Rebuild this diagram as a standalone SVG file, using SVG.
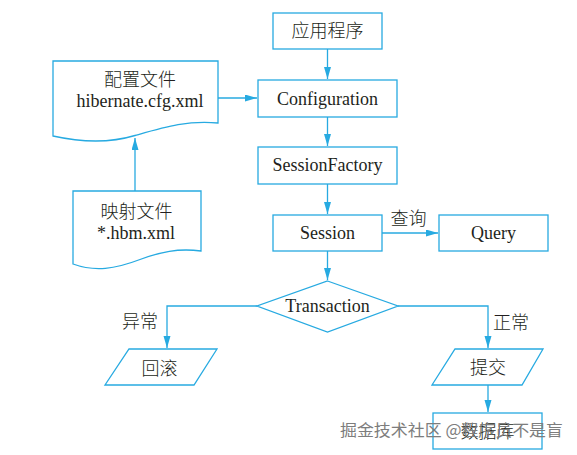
<svg xmlns="http://www.w3.org/2000/svg" width="577" height="455" viewBox="0 0 577 455">
<style>
.s{fill:#fff;stroke:#27aae1;stroke-width:1.3}
.c{fill:none;stroke:#27aae1;stroke-width:1.3}
.t{font-family:"Liberation Serif","Noto Sans CJK SC",serif;font-size:18px;fill:#231f20;text-anchor:middle}
.z{font-family:"Noto Sans CJK SC","Liberation Sans",sans-serif;font-size:18px;fill:#231f20;text-anchor:middle;font-weight:300}
.w{font-family:"Noto Sans CJK SC","Liberation Sans",sans-serif;font-size:16px;fill:#7d7d7d}
</style>
<defs>
<marker id="a" markerUnits="userSpaceOnUse" markerWidth="13" markerHeight="8" refX="12" refY="3.5" orient="auto">
<path d="M0,0 L12,3.5 L0,7 Z" fill="#27aae1"/>
</marker>
</defs>
<rect width="577" height="455" fill="#fff"/>
<g id="connectors">
<path class="c" d="M327.5,49 V79" marker-end="url(#a)"/>
<path class="c" d="M327.5,117 V146" marker-end="url(#a)"/>
<path class="c" d="M327.5,184 V214" marker-end="url(#a)"/>
<path class="c" d="M327.5,251 V280" marker-end="url(#a)"/>
<path class="c" d="M382,233 H438" marker-end="url(#a)"/>
<path class="c" d="M218,98 H257" marker-end="url(#a)"/>
<path class="c" d="M135,191 V138" marker-end="url(#a)"/>
<path class="c" d="M257,306 H167 V348" marker-end="url(#a)"/>
<path class="c" d="M398,306 H488 V348" marker-end="url(#a)"/>
<path class="c" d="M488,385 V412" marker-end="url(#a)"/>
<text class="z" x="408.5" y="225">查询</text>
<text class="z" x="140" y="328">异常</text>
<text class="z" x="511" y="329">正常</text>
</g>
<g id="app"><rect class="s" x="273" y="13" width="109" height="36"/><text class="z" x="327.5" y="37">应用程序</text></g>
<g id="configuration"><rect class="s" x="258" y="80" width="139" height="37"/><text class="t" x="327.5" y="104.5">Configuration</text></g>
<g id="sessionfactory"><rect class="s" x="258" y="147" width="139" height="37"/><text class="t" x="327.5" y="171">SessionFactory</text></g>
<g id="session"><rect class="s" x="273" y="215" width="109" height="36"/><text class="t" x="327.5" y="239">Session</text></g>
<g id="query"><rect class="s" x="439" y="215" width="109" height="36"/><text class="t" x="493.5" y="239">Query</text></g>
<g id="cfgfile"><path class="s" d="M53,61 H218 V123 C188,120 165,127 135,135.5 C110,143 80,142 53,136 Z"/><text class="z" x="140" y="85.5">配置文件</text><text class="t" x="140" y="107">hibernate.cfg.xml</text></g>
<g id="hbmfile"><path class="s" d="M73,191 H201 V251 C178,248 160,252 140,259.5 C115,269 95,272 73,264 Z"/><text class="z" x="136.5" y="218">映射文件</text><text class="t" x="136" y="239">*.hbm.xml</text></g>
<g id="transaction"><path class="s" d="M327.5,281 L398,306 L327.5,332 L257,306 Z"/><text class="t" x="327.5" y="311.5">Transaction</text></g>
<g id="rollback"><path class="s" d="M129,349 H217 L194,385 H105 Z"/><text class="z" x="159.5" y="375">回滚</text></g>
<g id="commit"><path class="s" d="M455,349 H543 L522,385 H432 Z"/><text class="z" x="488" y="374">提交</text></g>
<g id="database"><rect class="s" x="433" y="413" width="109" height="36"/><text class="z" x="487.5" y="438">数据库</text></g>
<text class="w" x="340" y="436" textLength="223" lengthAdjust="spacingAndGlyphs">掘金技术社区 @程序员不是盲</text>
</svg>
